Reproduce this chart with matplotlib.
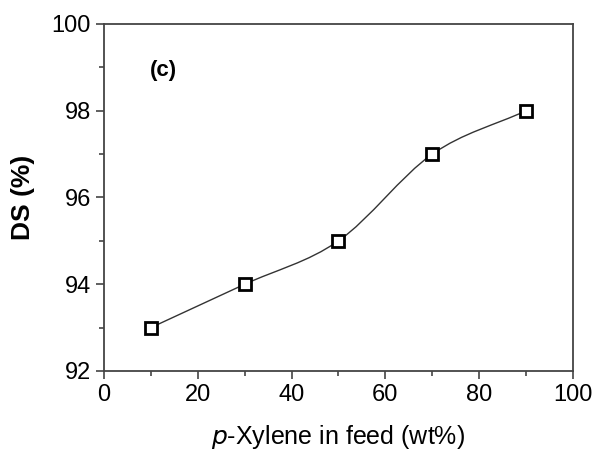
import numpy as np
import matplotlib
matplotlib.use("Agg")
import matplotlib.pyplot as plt
from matplotlib.path import Path
from matplotlib.patches import PathPatch
from matplotlib.ticker import MultipleLocator

# p-xylene content in feed (wt%) and degree of swelling (%)
feed = [10, 30, 50, 70, 90]
ds = [93, 94, 95, 97, 98]

x_ticks = [0, 20, 40, 60, 80, 100]
y_ticks = [92, 94, 96, 98, 100]

plt.rcParams["font.family"] = ["Liberation Sans", "DejaVu Sans"]


def smooth_path(xs, ys):
    """Catmull-Rom curve through the points, as cubic Bezier segments."""
    pts = np.column_stack([xs, ys]).astype(float)
    ext = np.vstack([2 * pts[0] - pts[1], pts, 2 * pts[-1] - pts[-2]])
    verts = [pts[0]]
    codes = [Path.MOVETO]
    for i in range(1, len(ext) - 2):
        p0, p1, p2, p3 = ext[i - 1], ext[i], ext[i + 1], ext[i + 2]
        verts += [p1 + (p2 - p0) / 6, p2 - (p3 - p1) / 6, p2]
        codes += [Path.CURVE4] * 3
    return Path(verts, codes)


fig = plt.figure(figsize=(5.95, 4.51), dpi=100)
ax = fig.add_axes([0.1748, 0.1774, 0.7882, 0.7694])

ax.add_patch(PathPatch(smooth_path(feed, ds), fill=False, ec="#333333", lw=1.0))
ax.plot(feed, ds, ls="none", marker="s", ms=9, mfc="white", mec="black", mew=2.0)

ax.set_xlim(0, 100)
ax.set_ylim(92, 100)
ax.set_xticks(x_ticks)
ax.set_yticks(y_ticks)
ax.xaxis.set_minor_locator(MultipleLocator(10))
ax.yaxis.set_minor_locator(MultipleLocator(1))
ax.tick_params(which="both", direction="out", top=False, right=False,
               color="#444444", width=1.2, labelsize=17, pad=4)
ax.tick_params(which="major", length=5.5)
ax.tick_params(which="minor", length=3.5)
for sp in ax.spines.values():
    sp.set_color("#444444")
    sp.set_linewidth(1.3)

ax.set_xlabel(r"$\it{p}$-Xylene in feed (wt%)", fontsize=18, labelpad=12)
ax.set_ylabel("DS (%)", fontsize=19, fontweight="bold", labelpad=12)
ax.text(0.126, 0.867, "(c)", transform=ax.transAxes, fontsize=16,
        fontweight="bold", ha="center", va="center")

fig.savefig("out.png", dpi=100)
